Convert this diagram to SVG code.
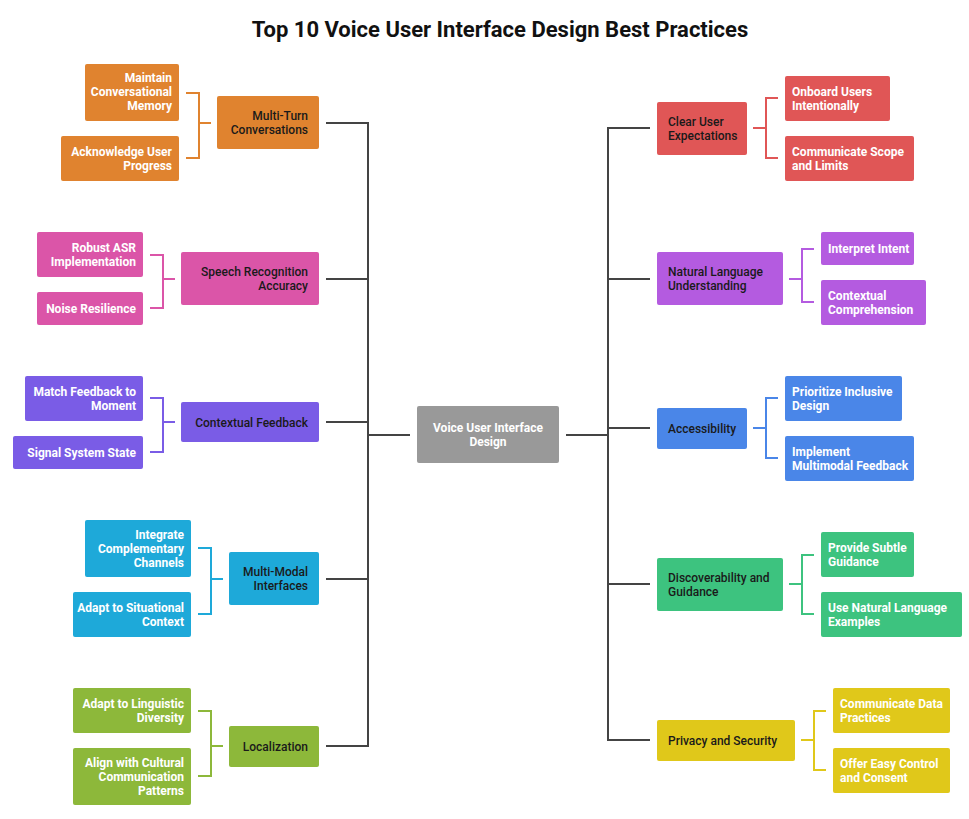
<svg xmlns="http://www.w3.org/2000/svg" width="969" height="819" viewBox="0 0 969 819">
<style>
text{font-family:Roboto,"Liberation Sans",sans-serif;font-size:12px}
.m{fill:#1a1a1a;font-weight:500}
.c{fill:#fff;font-weight:700}
.r{text-anchor:end}
.t{font-size:22px;font-weight:700;fill:#111;text-anchor:middle}
.k{fill:none;stroke:#444;stroke-width:2}
.b{fill:none;stroke-width:2}
</style>
<rect width="969" height="819" fill="#fff"/>
<text class="t" x="500" y="37">Top 10 Voice User Interface Design Best Practices</text>
<g id="connectors">
<path class="k" d="M326 123H368V746H326M326 279H368M326 422H368M326 579H368M368 435H410"/>
<path class="k" d="M566 435H608M650 128H608V740H650M608 279H650M608 428H650M608 584H650"/>
<path class="b" stroke="#E0832F" d="M186 93H199V158H186M199 123H211"/>
<path class="b" stroke="#DB55A8" d="M150 255H163V308H150M163 279H175"/>
<path class="b" stroke="#7A5CE6" d="M150 398H163V452H150M163 422H175"/>
<path class="b" stroke="#1EA9D9" d="M198 548H211V614H198M211 579H223"/>
<path class="b" stroke="#8DB83A" d="M198 711H211V776H198M211 746H223"/>
<path class="b" stroke="#E05656" d="M753 128H766M778 98H766V158H778"/>
<path class="b" stroke="#B45BE0" d="M789 279H802M814 249H802V302H814"/>
<path class="b" stroke="#4A86E8" d="M753 428H766M778 398H766V458H778"/>
<path class="b" stroke="#3DC37F" d="M789 584H802M814 555H802V614H814"/>
<path class="b" stroke="#E0C81A" d="M801 740H814M826 711H814V770H826"/>
</g>
<g id="center"><rect x="417" y="406" width="142" height="57" rx="2" fill="#999"/><text class="c" text-anchor="middle" x="488" y="432">Voice User Interface</text><text class="c" text-anchor="middle" x="488" y="446">Design</text></g>
<g id="n1"><rect x="217" y="96" width="102" height="53" rx="2" fill="#E0832F"/><text class="m r" x="308" y="120">Multi-Turn</text><text class="m r" x="308" y="134">Conversations</text></g>
<g id="n1a"><rect x="85" y="64" width="94" height="57" rx="2" fill="#E0832F"/><text class="c r" x="172" y="82">Maintain</text><text class="c r" x="172" y="96">Conversational</text><text class="c r" x="172" y="110">Memory</text></g>
<g id="n1b"><rect x="61" y="136" width="118" height="45" rx="2" fill="#E0832F"/><text class="c r" x="172" y="156">Acknowledge User</text><text class="c r" x="172" y="170">Progress</text></g>
<g id="n2"><rect x="181" y="252" width="138" height="53" rx="2" fill="#DB55A8"/><text class="m r" x="308" y="276">Speech Recognition</text><text class="m r" x="308" y="290">Accuracy</text></g>
<g id="n2a"><rect x="37" y="232" width="106" height="45" rx="2" fill="#DB55A8"/><text class="c r" x="136" y="252">Robust ASR</text><text class="c r" x="136" y="266">Implementation</text></g>
<g id="n2b"><rect x="37" y="292" width="106" height="33" rx="2" fill="#DB55A8"/><text class="c r" x="136" y="313">Noise Resilience</text></g>
<g id="n3"><rect x="181" y="402" width="138" height="40" rx="2" fill="#7A5CE6"/><text class="m r" x="308" y="427">Contextual Feedback</text></g>
<g id="n3a"><rect x="25" y="376" width="118" height="45" rx="2" fill="#7A5CE6"/><text class="c r" x="136" y="396">Match Feedback to</text><text class="c r" x="136" y="410">Moment</text></g>
<g id="n3b"><rect x="13" y="436" width="130" height="33" rx="2" fill="#7A5CE6"/><text class="c r" x="136" y="457">Signal System State</text></g>
<g id="n4"><rect x="229" y="552" width="90" height="53" rx="2" fill="#1EA9D9"/><text class="m r" x="308" y="576">Multi-Modal</text><text class="m r" x="308" y="590">Interfaces</text></g>
<g id="n4a"><rect x="85" y="520" width="106" height="57" rx="2" fill="#1EA9D9"/><text class="c r" x="184" y="539">Integrate</text><text class="c r" x="184" y="553">Complementary</text><text class="c r" x="184" y="567">Channels</text></g>
<g id="n4b"><rect x="73" y="592" width="118" height="45" rx="2" fill="#1EA9D9"/><text class="c r" x="184" y="612">Adapt to Situational</text><text class="c r" x="184" y="626">Context</text></g>
<g id="n5"><rect x="229" y="726" width="90" height="41" rx="2" fill="#8DB83A"/><text class="m r" x="308" y="751">Localization</text></g>
<g id="n5a"><rect x="73" y="688" width="118" height="45" rx="2" fill="#8DB83A"/><text class="c r" x="184" y="708">Adapt to Linguistic</text><text class="c r" x="184" y="722">Diversity</text></g>
<g id="n5b"><rect x="73" y="748" width="118" height="57" rx="2" fill="#8DB83A"/><text class="c r" x="184" y="767">Align with Cultural</text><text class="c r" x="184" y="781">Communication</text><text class="c r" x="184" y="795">Patterns</text></g>
<g id="n6"><rect x="657" y="102" width="90" height="53" rx="2" fill="#E05656"/><text class="m" x="668" y="126">Clear User</text><text class="m" x="668" y="140">Expectations</text></g>
<g id="n6a"><rect x="785" y="76" width="105" height="45" rx="2" fill="#E05656"/><text class="c" x="792" y="96">Onboard Users</text><text class="c" x="792" y="110">Intentionally</text></g>
<g id="n6b"><rect x="785" y="136" width="129" height="45" rx="2" fill="#E05656"/><text class="c" x="792" y="156">Communicate Scope</text><text class="c" x="792" y="170">and Limits</text></g>
<g id="n7"><rect x="657" y="252" width="126" height="53" rx="2" fill="#B45BE0"/><text class="m" x="668" y="276">Natural Language</text><text class="m" x="668" y="290">Understanding</text></g>
<g id="n7a"><rect x="821" y="232" width="93" height="33" rx="2" fill="#B45BE0"/><text class="c" x="828" y="253">Interpret Intent</text></g>
<g id="n7b"><rect x="821" y="280" width="105" height="45" rx="2" fill="#B45BE0"/><text class="c" x="828" y="300">Contextual</text><text class="c" x="828" y="314">Comprehension</text></g>
<g id="n8"><rect x="657" y="408" width="90" height="41" rx="2" fill="#4A86E8"/><text class="m" x="668" y="433">Accessibility</text></g>
<g id="n8a"><rect x="785" y="376" width="117" height="45" rx="2" fill="#4A86E8"/><text class="c" x="792" y="396">Prioritize Inclusive</text><text class="c" x="792" y="410">Design</text></g>
<g id="n8b"><rect x="785" y="436" width="129" height="45" rx="2" fill="#4A86E8"/><text class="c" x="792" y="456">Implement</text><text class="c" x="792" y="470">Multimodal Feedback</text></g>
<g id="n9"><rect x="657" y="558" width="126" height="53" rx="2" fill="#3DC37F"/><text class="m" x="668" y="582">Discoverability and</text><text class="m" x="668" y="596">Guidance</text></g>
<g id="n9a"><rect x="821" y="532" width="93" height="45" rx="2" fill="#3DC37F"/><text class="c" x="828" y="552">Provide Subtle</text><text class="c" x="828" y="566">Guidance</text></g>
<g id="n9b"><rect x="821" y="592" width="141" height="45" rx="2" fill="#3DC37F"/><text class="c" x="828" y="612">Use Natural Language</text><text class="c" x="828" y="626">Examples</text></g>
<g id="n10"><rect x="657" y="720" width="138" height="41" rx="2" fill="#E0C81A"/><text class="m" x="668" y="745">Privacy and Security</text></g>
<g id="n10a"><rect x="833" y="688" width="117" height="45" rx="2" fill="#E0C81A"/><text class="c" x="840" y="708">Communicate Data</text><text class="c" x="840" y="722">Practices</text></g>
<g id="n10b"><rect x="833" y="748" width="117" height="45" rx="2" fill="#E0C81A"/><text class="c" x="840" y="768">Offer Easy Control</text><text class="c" x="840" y="782">and Consent</text></g>
</svg>
